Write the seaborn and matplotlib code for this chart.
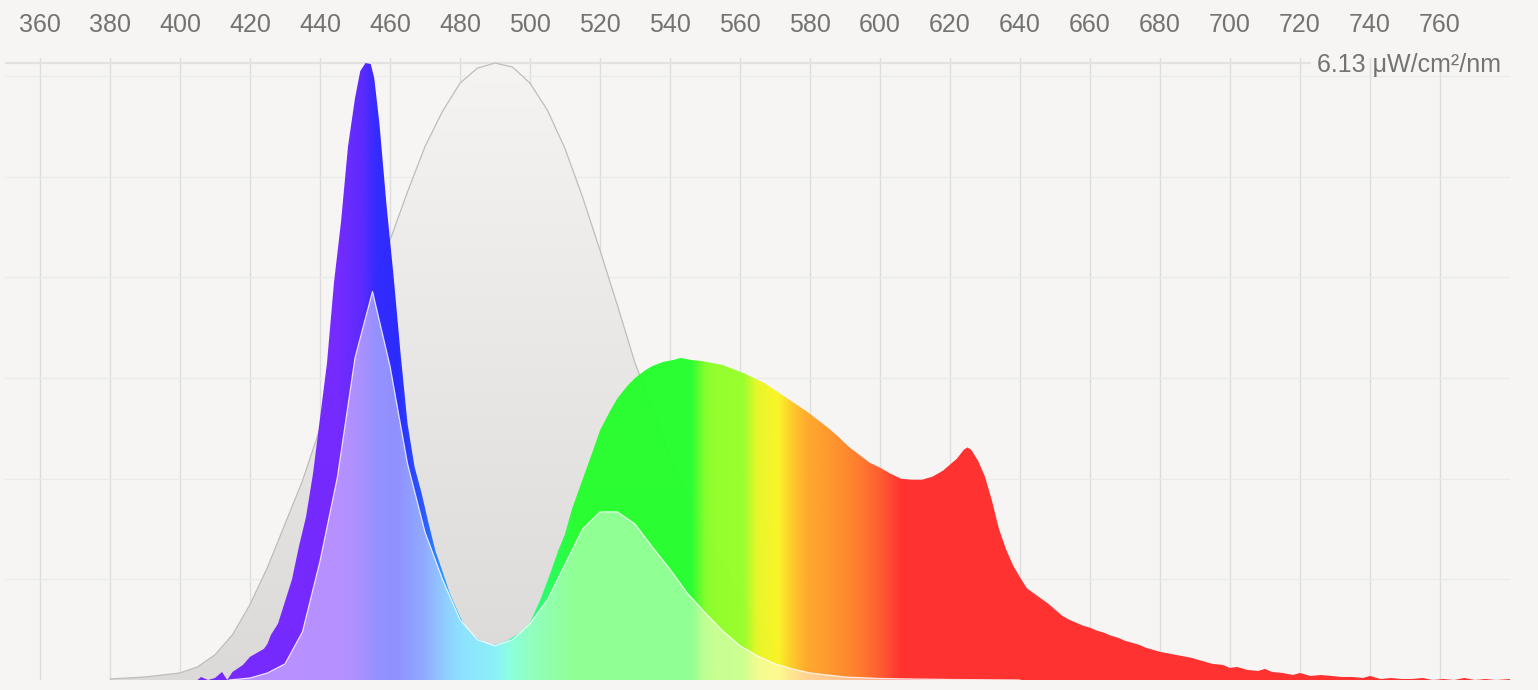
import numpy as np
import pandas as pd
import matplotlib
matplotlib.use("Agg")
import matplotlib.pyplot as plt
from matplotlib.colors import to_rgb
from matplotlib.patches import Polygon
import seaborn as sns

# DATA
tick_nm = list(range(360, 761, 20))
peak_value = 6.13
peak_label = "6.13 μW/cm²/nm"

# gray sensitivity curve (scaled to chart top), every 5 nm
mel_nm = list(range(380, 601, 5))
mel_val = [0.01, 0.02, 0.03, 0.05, 0.07, 0.13, 0.25, 0.45, 0.75, 1.12,
           1.55, 1.98, 2.50, 2.95, 3.42, 3.90, 4.37, 4.85, 5.30, 5.65,
           5.93, 6.08, 6.13, 6.09, 5.93, 5.66, 5.28, 4.80, 4.27, 3.72,
           3.15, 2.70, 2.22, 1.85, 1.50, 1.15, 0.85, 0.58, 0.35, 0.18,
           0.10, 0.06, 0.04, 0.02, 0.01]

# measured spectrum
spec_nm = [400, 405, 406, 408, 410, 412, 413.5, 415, 418, 420, 422, 424, 425, 426, 428,
           430, 432, 434, 436, 438, 440, 442, 444, 446, 448, 450, 451.5, 453, 454.5,
           455.5, 457, 459, 461, 463, 465, 467, 469, 471, 473, 475, 477, 480, 482,
           485, 488, 490, 492, 494, 497, 500, 503, 506, 508, 510, 512, 515, 518,
           520, 523, 525, 528, 530, 533, 535, 538, 541, 543, 546, 549, 552, 555,
           558, 561, 564, 567, 570, 573, 576, 579, 582, 585, 588, 591, 594, 597,
           600, 603, 606, 609, 612, 615, 618, 620, 622, 624, 625, 626, 628, 630,
           632, 634, 636, 638, 640, 642, 644, 646, 648, 650, 652, 654, 656, 658,
           660, 662, 664, 666, 668, 670, 672, 674, 676, 678, 680, 683, 686, 689,
           692, 695, 698, 700, 702, 705, 708, 710, 712, 715, 718, 720, 723, 726,
           729, 732, 735, 738, 740, 743, 746, 749, 752, 755, 758, 761, 764, 767,
           770, 773, 776, 780]
spec_val = [0.0, 0.0, 0.03, 0.0, 0.02, 0.08, 0.0, 0.08, 0.15, 0.23, 0.27, 0.31, 0.36, 0.45, 0.56,
            0.78, 1.00, 1.33, 1.62, 2.05, 2.60, 3.15, 3.95, 4.55, 5.30, 5.78, 6.05, 6.13, 6.12,
            5.98, 5.52, 4.72, 4.02, 3.25, 2.55, 2.12, 1.86, 1.56, 1.28, 1.08, 0.87, 0.63, 0.50,
            0.41, 0.36, 0.35, 0.37, 0.40, 0.47, 0.57, 0.80, 1.08, 1.28, 1.45, 1.70, 1.99, 2.28,
            2.48, 2.68, 2.80, 2.93, 3.00, 3.08, 3.12, 3.16, 3.18, 3.20, 3.18, 3.17, 3.15, 3.13,
            3.09, 3.05, 3.00, 2.95, 2.88, 2.81, 2.74, 2.67, 2.59, 2.51, 2.42, 2.32, 2.24, 2.16,
            2.11, 2.05, 2.00, 1.99, 1.99, 2.02, 2.08, 2.14, 2.20, 2.29, 2.31, 2.29, 2.18, 2.02,
            1.78, 1.50, 1.30, 1.14, 1.02, 0.91, 0.86, 0.81, 0.76, 0.70, 0.64, 0.60, 0.57, 0.54,
            0.52, 0.49, 0.47, 0.44, 0.42, 0.39, 0.37, 0.35, 0.32, 0.30, 0.28, 0.26, 0.24, 0.22,
            0.19, 0.16, 0.15, 0.12, 0.13, 0.10, 0.09, 0.11, 0.08, 0.07, 0.05, 0.07, 0.04, 0.05,
            0.04, 0.03, 0.03, 0.02, 0.04, 0.01, 0.02, 0.01, 0.01, 0.02, 0.0, 0.01, 0.0, 0.02,
            0.0, 0.01, 0.0, 0.01]

# weighted spectrum (pale overlay)
weighted_nm = [414, 420, 425, 430, 435, 440, 445, 450, 455, 460, 465, 470, 475, 480,
               485, 490, 495, 500, 505, 510, 515, 520, 525, 530, 535, 540, 545, 550,
               555, 560, 565, 570, 575, 580, 590, 600, 620, 640]
weighted_val = [0.0, 0.02, 0.07, 0.16, 0.48, 1.18, 2.02, 3.20, 3.86, 3.12, 2.15, 1.47, 1.00, 0.60,
                0.40, 0.34, 0.40, 0.56, 0.80, 1.15, 1.50, 1.67, 1.67, 1.55, 1.32, 1.10, 0.86, 0.67,
                0.49, 0.34, 0.24, 0.16, 0.11, 0.07, 0.03, 0.015, 0.005, 0.0]

# rainbow colour stops for the fill
stop_nm = [350, 445, 452, 456, 462, 470, 476, 481, 490, 494, 500, 506, 513, 546,
           550, 553, 561, 565, 571, 575, 579, 587, 594, 601, 606, 780]
stop_col = ['#7a22ff', '#7022ff', '#5522ff', '#2c22ff', '#2222ff', '#2258ff', '#22a0ff',
            '#1cc8ff', '#1ae0f0', '#1affc4', '#22ff82', '#22ff55', '#22ff2a', '#22ff2a',
            '#80ff25', '#90ff25', '#98ff25', '#e8f820', '#fbf520', '#ffc822', '#ffa825',
            '#ff9025', '#ff7825', '#ff5028', '#ff2a28', '#ff2a28']

bg = '#f6f5f3'
x_lo, x_hi = 350, 780
y_hi = 6.18

sns.set_theme(style="white")
plt.rcParams['font.family'] = ['Liberation Sans', 'DejaVu Sans']

fig = plt.figure(figsize=(15.38, 6.90), dpi=100)
fig.patch.set_facecolor(bg)
ax = fig.add_axes([5 / 1538, 10 / 690, 1505 / 1538, 622 / 690])
ax.set_facecolor(bg)


def clip_poly(x, y):
    verts = [(x[0], 0)] + list(zip(x, y)) + [(x[-1], 0)]
    poly = Polygon(verts, closed=True, fc='none', ec='none')
    ax.add_patch(poly)
    return poly


# horizontal rainbow image
cols = np.linspace(x_lo, x_hi, 1720)
rgb = np.array([to_rgb(c) for c in stop_col])
rainbow = np.stack([np.interp(cols, stop_nm, rgb[:, k]) for k in range(3)], axis=-1)
rainbow_img = np.repeat(rainbow[None, :, :], 2, axis=0)
pale_img = rainbow_img * 0.5 + 0.5

# vertical gray gradient image
rows = np.linspace(0, 1, 300)
top_c, bot_c = np.array(to_rgb('#f5f4f2')), np.array(to_rgb('#dbdad8'))
gray_col = bot_c[None, :] * (1 - rows[:, None]) + top_c[None, :] * rows[:, None]
gray_img = np.repeat(gray_col[:, None, :], 2, axis=1)

ext = [x_lo, x_hi, 0, y_hi]

# gray sensitivity area
im = ax.imshow(gray_img, extent=ext, origin='lower', aspect='auto', zorder=2)
im.set_clip_path(clip_poly(mel_nm, mel_val))
sns.lineplot(x=mel_nm, y=mel_val, color='#bdbdbd', linewidth=0.9, ax=ax, zorder=3)

# measured spectrum
im = ax.imshow(rainbow_img, extent=ext, origin='lower', aspect='auto', zorder=4, alpha=0.96)
im.set_clip_path(clip_poly(spec_nm, spec_val))

# weighted spectrum
im = ax.imshow(pale_img, extent=ext, origin='lower', aspect='auto', zorder=5)
im.set_clip_path(clip_poly(weighted_nm, weighted_val))
sns.lineplot(x=weighted_nm, y=weighted_val, color='white', linewidth=0.9, alpha=0.8, ax=ax, zorder=6)

ax.set_xlim(x_lo, x_hi)
ax.set_ylim(0, y_hi)

# grid
ax.set_xticks(tick_nm)
ax.set_xticklabels([str(t) for t in tick_nm])
ax.set_yticks([1, 2, 3, 4, 5, 6])
ax.set_yticklabels([])
ax.set_axisbelow(True)
ax.grid(axis='x', color='#dddddd', linewidth=1.0)
ax.grid(axis='y', color='#ebebeb', linewidth=1.0)
ax.hlines(peak_value, x_lo, 723, color='#e2e2e2', linewidth=1.6, zorder=1)

ax.xaxis.tick_top()
ax.tick_params(axis='x', length=0, pad=15, labelsize=18, labelcolor='#737373')
ax.tick_params(axis='y', length=0)
for s in ax.spines.values():
    s.set_visible(False)

ax.text(777.4, 6.11, peak_label, ha='right', va='center', fontsize=18, color='#737373', zorder=7)

fig.savefig('out.png', dpi=100, facecolor=bg)
